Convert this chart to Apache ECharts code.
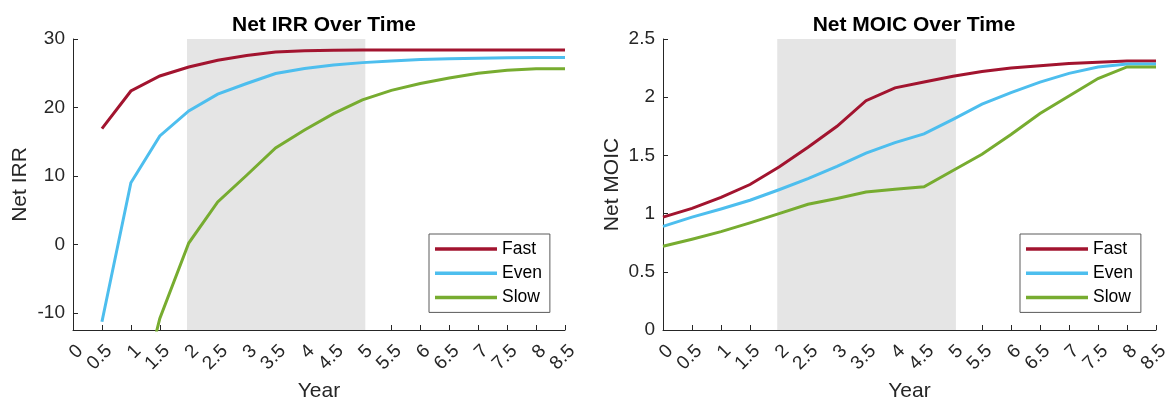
<!DOCTYPE html>
<html>
<head>
<meta charset="utf-8">
<script src="https://cdn.jsdelivr.net/npm/echarts@6/dist/echarts.min.js"></script>
<style>
  html, body { margin: 0; padding: 0; background: #fff; }
  #chart { width: 1167px; height: 400px; }
</style>
</head>
<body>
<div id="chart"></div>
<script>
// Years since fund inception (x axis) and the tick labels drawn under it
const years = [0, 0.5, 1, 1.5, 2, 2.5, 3, 3.5, 4, 4.5, 5, 5.5, 6, 6.5, 7, 7.5, 8, 8.5];
const yearTicks = [0, 0.5, 1, 1.5, 2, 2.5, 3, 3.5, 4, 4.5, 5, 5.5, 6, 6.5, 7, 7.5, 8, 8.5];

// Net IRR (%) per deployment pace; null = not yet defined
const irrFast = [null, 16.9, 22.4, 24.6, 25.9, 26.9, 27.6, 28.1, 28.3, 28.35, 28.4, 28.4, 28.4, 28.4, 28.4, 28.4, 28.4, 28.4];
const irrEven = [null, -11.3, 9.0, 15.85, 19.5, 21.95, 23.5, 24.95, 25.7, 26.2, 26.55, 26.8, 27.0, 27.1, 27.2, 27.25, 27.3, 27.3];
const irrSlow = [null, null, -27.8, -10.8, 0.2, 6.2, 10.1, 14.1, 16.7, 19.1, 21.1, 22.5, 23.5, 24.3, 25.0, 25.45, 25.65, 25.65];
const irrTicks = [-10, 0, 10, 20, 30];

// Net MOIC (x) per deployment pace
const moicFast = [0.97, 1.045, 1.14, 1.25, 1.40, 1.57, 1.75, 1.97, 2.08, 2.13, 2.18, 2.22, 2.25, 2.27, 2.29, 2.30, 2.31, 2.31];
const moicEven = [0.89, 0.97, 1.04, 1.115, 1.205, 1.30, 1.405, 1.52, 1.61, 1.685, 1.81, 1.94, 2.04, 2.13, 2.205, 2.26, 2.285, 2.285];
const moicSlow = [0.72, 0.78, 0.845, 0.92, 1.0, 1.08, 1.13, 1.185, 1.21, 1.23, 1.37, 1.51, 1.68, 1.86, 2.01, 2.16, 2.26, 2.26];
const moicTicks = [0, 0.5, 1, 1.5, 2, 2.5];

// Investment period highlighted behind the curves (years)
const shadeStart = 1.97;
const shadeEnd = 5.05;

const paceNames = ['Fast', 'Even', 'Slow'];
const paceColors = ['#A2142F', '#4DBEEE', '#77AC30'];

const FONT = 'Liberation Sans, Arial, Helvetica, sans-serif';
const INK = '#262626';

function pairs(values) {
  const out = [];
  values.forEach((v, i) => { if (v !== null) out.push([years[i], v]); });
  return out;
}

function xAxisFor(gridIndex) {
  return {
    type: 'value', gridIndex: gridIndex, min: 0, max: 8.5,
    name: 'Year', nameLocation: 'middle', nameGap: 41,
    nameTextStyle: { fontSize: 21, color: INK, fontFamily: FONT },
    axisLine: { show: true, onZero: false, lineStyle: { color: INK, width: 1 } },
    axisTick: { show: true, inside: true, length: 5, customValues: yearTicks, lineStyle: { color: INK, width: 1 } },
    axisLabel: {
      customValues: yearTicks, rotate: 45, margin: 11,
      align: 'right', verticalAlign: 'top', lineHeight: 20,
      fontSize: 19, color: INK, fontFamily: FONT,
      formatter: v => String(v)
    },
    splitLine: { show: false }
  };
}

function yAxisFor(gridIndex, name, min, max, ticks, gap) {
  return {
    type: 'value', gridIndex: gridIndex, min: min, max: max,
    name: name, nameLocation: 'middle', nameGap: gap, nameRotate: 90,
    nameTextStyle: { fontSize: 21, color: INK, fontFamily: FONT },
    axisLine: { show: true, onZero: false, lineStyle: { color: INK, width: 1 } },
    axisTick: { show: true, inside: true, length: 5, customValues: ticks, lineStyle: { color: INK, width: 1 } },
    axisLabel: {
      customValues: ticks, margin: 8, fontSize: 19, color: INK, fontFamily: FONT,
      formatter: v => String(v)
    },
    splitLine: { show: false }
  };
}

function legendAt(left) {
  return {
    left: left, top: 234, orient: 'vertical', data: paceNames,
    icon: 'rect', itemWidth: 62, itemHeight: 3.5, itemGap: 4.2,
    padding: [5, 8, 5, 6], borderColor: '#5a5a5a', borderWidth: 1,
    backgroundColor: '#fff', selectedMode: false,
    textStyle: { fontSize: 17.5, color: '#000', lineHeight: 20, fontFamily: FONT }
  };
}

function paceSeries(axisIndex, datasets) {
  const list = [{
    // background band for the investment period
    type: 'line', name: 'band', data: [], xAxisIndex: axisIndex, yAxisIndex: axisIndex, z: 1,
    markArea: {
      silent: true,
      itemStyle: { color: '#e5e5e5' },
      data: [[{ xAxis: shadeStart }, { xAxis: shadeEnd }]]
    }
  }];
  datasets.forEach((vals, k) => {
    list.push({
      name: paceNames[k], type: 'line', xAxisIndex: axisIndex, yAxisIndex: axisIndex,
      data: pairs(vals), symbol: 'none', showSymbol: false, clip: true, z: 3,
      lineStyle: { width: 3, color: paceColors[k], join: 'miter' },
      itemStyle: { color: paceColors[k] }
    });
  });
  return list;
}

const chart = echarts.init(document.getElementById('chart'), null, { renderer: 'canvas' });
chart.setOption({
  animation: false,
  backgroundColor: '#fff',
  textStyle: { fontFamily: FONT },
  title: [
    { text: 'Net IRR Over Time', left: 319, top: 10, textAlign: 'center',
      textStyle: { fontSize: 21, fontWeight: 'bold', color: '#000', fontFamily: FONT } },
    { text: 'Net MOIC Over Time', left: 909, top: 10, textAlign: 'center',
      textStyle: { fontSize: 21, fontWeight: 'bold', color: '#000', fontFamily: FONT } }
  ],
  grid: [
    { left: 73, top: 39, width: 492, height: 291, outerBoundsMode: 'none', containLabel: false },
    { left: 663, top: 39, width: 493, height: 291, outerBoundsMode: 'none', containLabel: false }
  ],
  xAxis: [xAxisFor(0), xAxisFor(1)],
  yAxis: [
    yAxisFor(0, 'Net IRR', -12.5, 30, irrTicks, 42),
    yAxisFor(1, 'Net MOIC', 0, 2.5, moicTicks, 40)
  ],
  legend: [legendAt(429), legendAt(1020)],
  series: paceSeries(0, [irrFast, irrEven, irrSlow]).concat(paceSeries(1, [moicFast, moicEven, moicSlow]))
});
</script>
</body>
</html>
